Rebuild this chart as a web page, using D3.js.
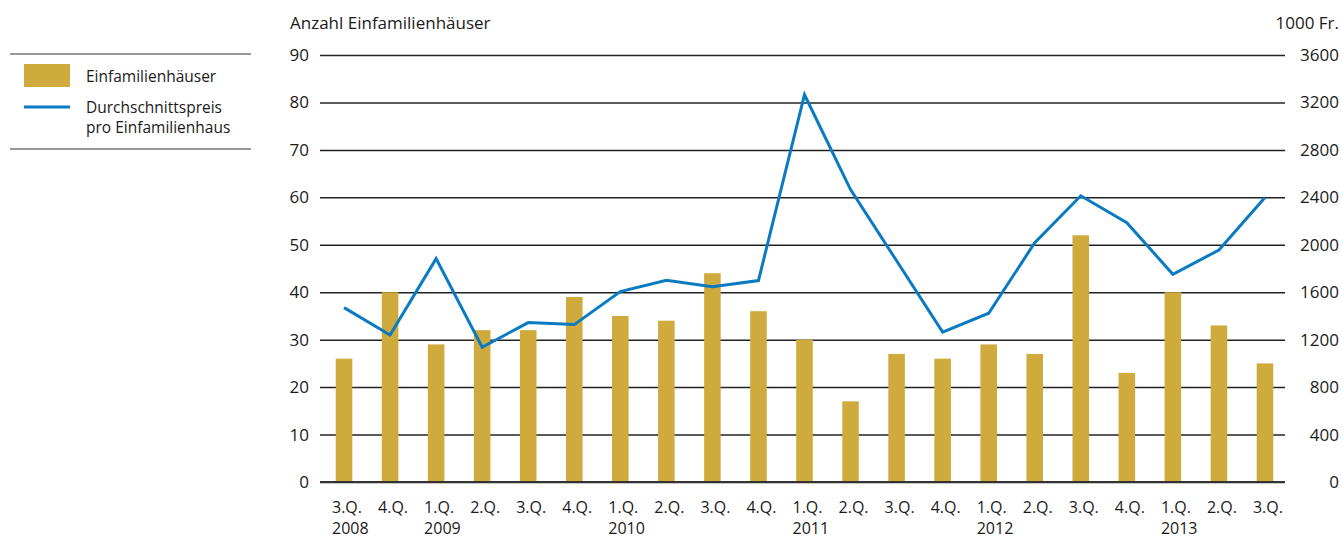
<!DOCTYPE html>
<html>
<head>
<meta charset="utf-8">
<script src="https://cdn.jsdelivr.net/npm/d3@7"></script>
<style>
  body { margin: 0; background: #fff; }
  text { font-family: "Open Sans", sans-serif; fill: #1a1a1a; }
</style>
</head>
<body>
<div id="chart"></div>
<script>
// Data
const quarters = ["3.Q.", "4.Q.", "1.Q.", "2.Q.", "3.Q.", "4.Q.", "1.Q.", "2.Q.", "3.Q.", "4.Q.",
    "1.Q.", "2.Q.", "3.Q.", "4.Q.", "1.Q.", "2.Q.", "3.Q.", "4.Q.", "1.Q.", "2.Q.", "3.Q."];
const years = ["2008", "", "2009", "", "", "", "2010", "", "", "", "2011", "", "", "", "2012", "", "", "", "2013", "", ""];
const houses = [26, 40, 29, 32, 32, 39, 35, 34, 44, 36, 30, 17, 27, 26, 29, 27, 52, 23, 40, 33, 25];
const avgPrice = [1470, 1240, 1883, 1136, 1344, 1327, 1605, 1700, 1647, 1698, 3265,
    2465, 1865, 1264, 1423, 2017, 2413, 2186, 1751, 1956, 2399];
const leftTicks = [0, 10, 20, 30, 40, 50, 60, 70, 80, 90];
const rightTicks = [0, 400, 800, 1200, 1600, 2000, 2400, 2800, 3200, 3600];

const width = 1342, height = 538;
const plotLeft = 320, plotRight = 1285, plotTop = 55, plotBottom = 482;

const svg = d3.select("#chart").append("svg")
    .attr("width", width)
    .attr("height", height);

// bands run a touch past the grid on the right, like the original
const x = d3.scaleBand()
    .domain(d3.range(quarters.length))
    .range([plotLeft + 1, plotRight + 3])
    .paddingInner(0.64)
    .paddingOuter(0.32);

const yL = d3.scaleLinear().domain([0, 90]).range([plotBottom, plotTop]);
const yR = d3.scaleLinear().domain([0, 3600]).range([plotBottom, plotTop]);

// Grid lines + left axis
const leftAxis = svg.append("g")
    .attr("transform", `translate(${plotLeft},0)`)
    .call(d3.axisLeft(yL).tickValues(leftTicks).tickSize(-(plotRight - plotLeft)).tickPadding(11));
leftAxis.select(".domain").remove();
leftAxis.selectAll(".tick line").attr("stroke", "#222").attr("stroke-width", 1.5);
leftAxis.selectAll(".tick text").style("font-size", "17px").style("font-family", "Open Sans");

// Right axis (labels only)
const rightAxis = svg.append("g")
    .attr("transform", `translate(${plotRight},0)`)
    .call(d3.axisRight(yR).tickValues(rightTicks).tickFormat(d3.format("d")).tickSize(0).tickPadding(0));
rightAxis.select(".domain").remove();
rightAxis.selectAll(".tick text")
    .attr("x", 54)
    .attr("text-anchor", "end")
    .style("font-size", "17px")
    .style("font-family", "Open Sans");

// Bars
svg.append("g").selectAll("rect")
    .data(houses)
    .join("rect")
    .attr("x", (d, i) => x(i))
    .attr("y", d => yL(d))
    .attr("width", x.bandwidth())
    .attr("height", d => yL(0) - yL(d))
    .attr("fill", "#cfab3e");

// Baseline on top of bars
svg.append("line")
    .attr("x1", plotLeft).attr("x2", plotRight)
    .attr("y1", yL(0)).attr("y2", yL(0))
    .attr("stroke", "#333").attr("stroke-width", 2);

// Line
const line = d3.line()
    .x((d, i) => x(i) + x.bandwidth() / 2)
    .y(d => yR(d));

svg.append("path")
    .datum(avgPrice)
    .attr("d", line)
    .attr("fill", "none")
    .attr("stroke", "#0a7bc2")
    .attr("stroke-width", 3)
    .attr("stroke-linejoin", "miter");

// X labels
const xl = svg.append("g").selectAll("text")
    .data(quarters)
    .join("text")
    .attr("x", (d, i) => x(i) + x.bandwidth() / 2 - 12)
    .attr("y", 513)
    .style("font-size", "16px");
xl.append("tspan").text(d => d);
xl.append("tspan")
    .attr("x", (d, i) => x(i) + x.bandwidth() / 2 - 12)
    .attr("y", 534)
    .text((d, i) => years[i]);

// Axis titles
svg.append("text")
    .attr("x", 290).attr("y", 29)
    .style("font-size", "17px")
    .text("Anzahl Einfamilienhäuser");
svg.append("text")
    .attr("x", 1339).attr("y", 29)
    .attr("text-anchor", "end")
    .style("font-size", "17px")
    .text("1000 Fr.");

// Legend
const legend = svg.append("g");
legend.append("line").attr("x1", 10).attr("x2", 251).attr("y1", 54).attr("y2", 54)
    .attr("stroke", "#333").attr("stroke-width", 1.2);
legend.append("line").attr("x1", 10).attr("x2", 251).attr("y1", 149).attr("y2", 149)
    .attr("stroke", "#333").attr("stroke-width", 1.2);
legend.append("rect").attr("x", 24).attr("y", 64).attr("width", 46).attr("height", 23)
    .attr("fill", "#cfab3e");
legend.append("line").attr("x1", 24).attr("x2", 70).attr("y1", 107).attr("y2", 107)
    .attr("stroke", "#0a7bc2").attr("stroke-width", 3);
legend.append("text").attr("x", 86).attr("y", 82).style("font-size", "15.5px")
    .text("Einfamilienhäuser");
legend.append("text").attr("x", 86).attr("y", 113).style("font-size", "15.5px")
    .text("Durchschnittspreis");
legend.append("text").attr("x", 86).attr("y", 133).style("font-size", "15.5px")
    .text("pro Einfamilienhaus");
</script>
</body>
</html>
